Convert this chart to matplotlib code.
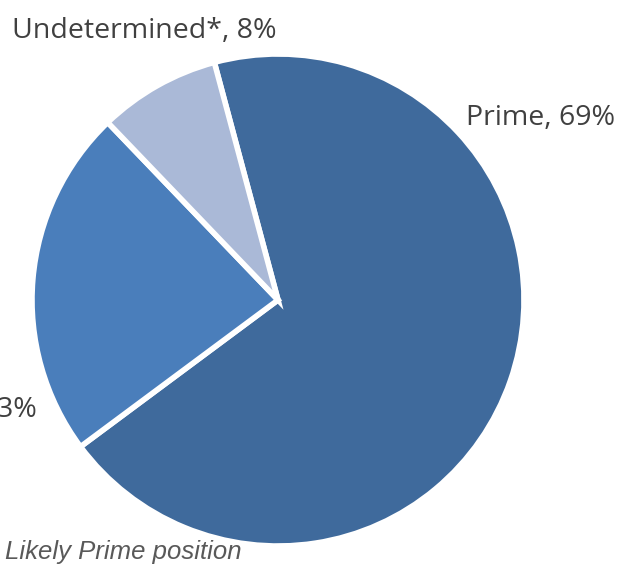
import matplotlib.pyplot as plt

# data
categories = ["Prime", "Likely Prime", "Undetermined*"]
shares = [69, 23, 8]
colors = ["#3F6A9C", "#4A7EBB", "#AAB9D7"]

W, H = 620, 565

fig = plt.figure(figsize=(W / 100, H / 100), dpi=100)
ax = fig.add_axes([0, 0, 1, 1])

# pie in pixel units (y flipped by hand)
cx, cy, r = 278, H - 300, 246
ax.pie(shares, colors=colors, startangle=105, counterclock=False,
       center=(cx, cy), radius=r,
       wedgeprops=dict(edgecolor="white", linewidth=4))

ax.set_xlim(0, W)
ax.set_ylim(0, H)
ax.set_aspect("equal")
ax.axis("off")

lab_font = dict(family=["Open Sans", "DejaVu Sans"], size=20.5, color="#404040")
ax.text(12, H - 31, "%s, %d%%" % (categories[2], shares[2]), ha="left", va="center", **lab_font)
ax.text(466, H - 118, "%s, %d%%" % (categories[0], shares[0]), ha="left", va="center", **lab_font)
ax.text(37, H - 410, "%s, %d%%" % (categories[1], shares[1]), ha="right", va="center", **lab_font)

ax.text(242, H - 552, "*Undetermined cases are not assigned to a Likely Prime position",
        ha="right", va="center", style="italic", size=18.5,
        family=["Liberation Sans", "DejaVu Sans"], color="#595959")

fig.savefig("out.png", dpi=100)
